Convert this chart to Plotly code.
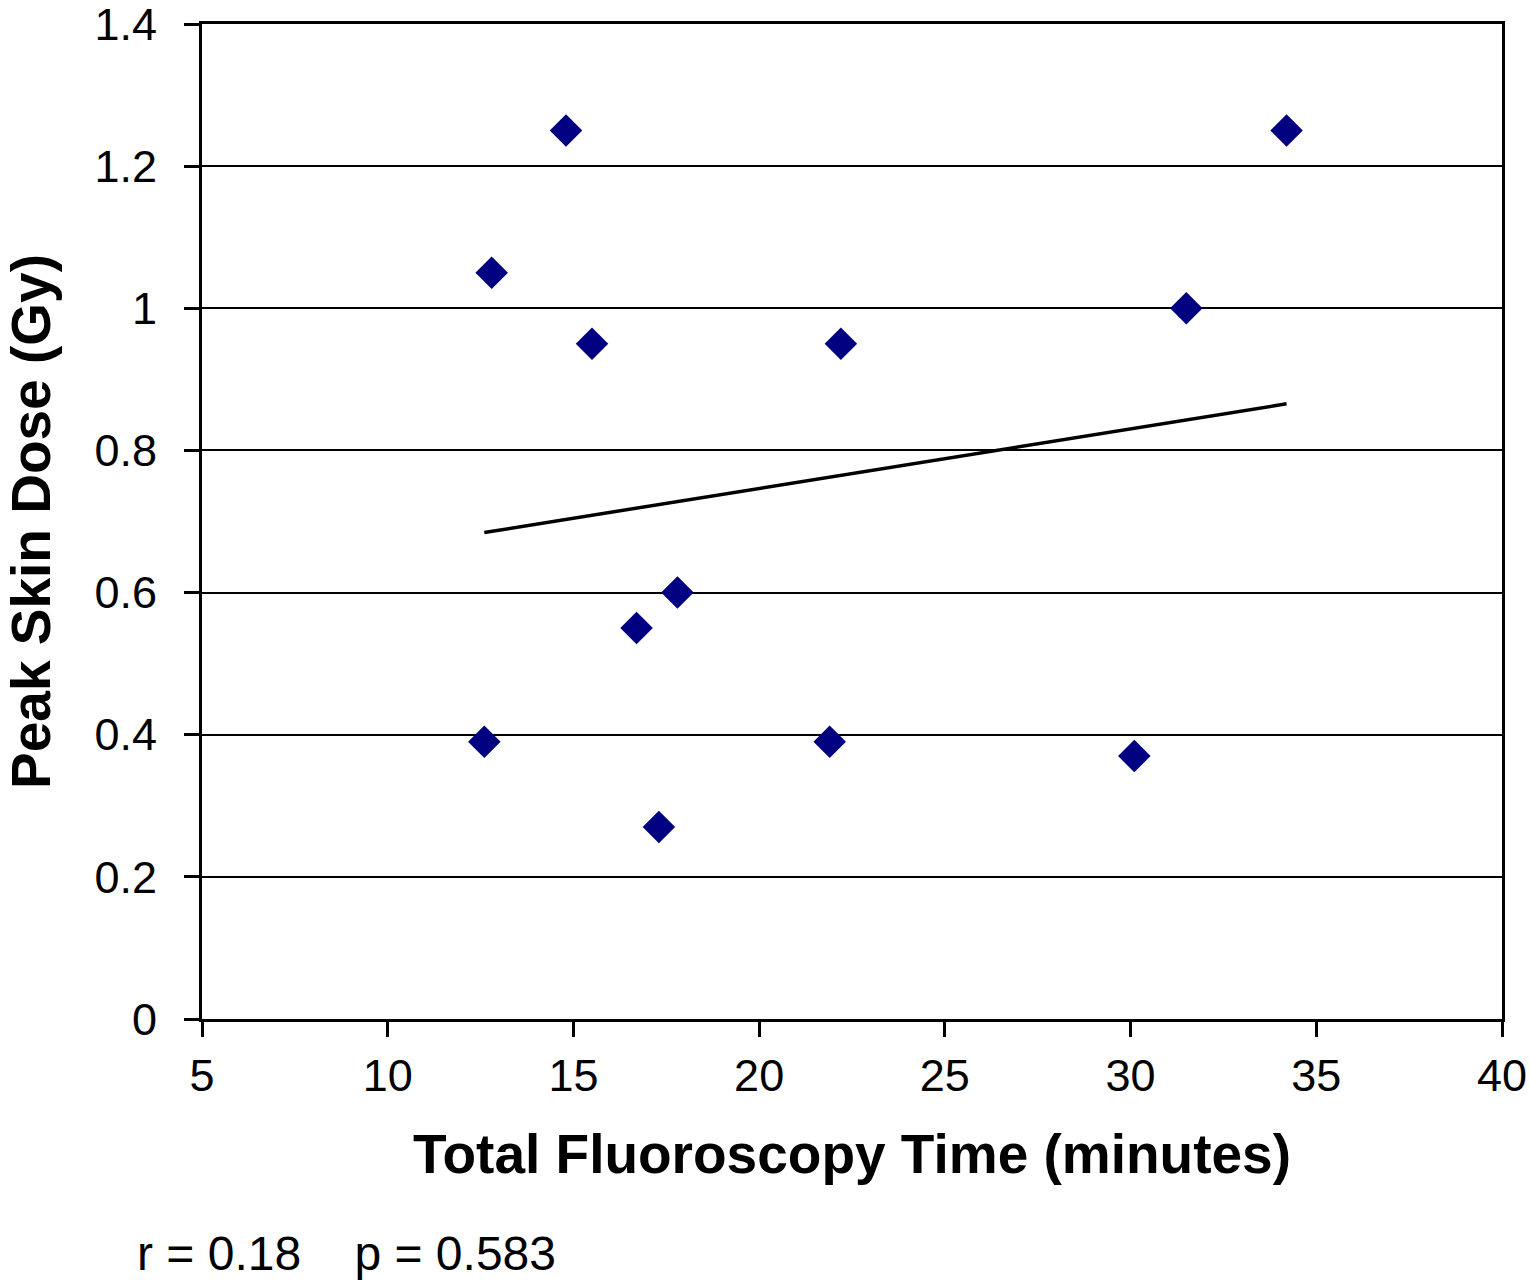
import numpy as np
import plotly.graph_objects as go

fluoro_time = [12.6, 12.8, 14.8, 15.5, 16.7, 17.3, 17.8, 21.9, 22.2, 30.1, 31.5, 34.2]
peak_dose = [0.39, 1.05, 1.25, 0.95, 0.55, 0.27, 0.60, 0.39, 0.95, 0.37, 1.00, 1.25]
x_ticks = [5, 10, 15, 20, 25, 30, 35, 40]
y_ticks = [0, 0.2, 0.4, 0.6, 0.8, 1.0, 1.2, 1.4]
y_tick_text = ["0", "0.2", "0.4", "0.6", "0.8", "1", "1.2", "1.4"]
stats_text = "r = 0.18    p = 0.583"

slope, intercept = np.polyfit(fluoro_time, peak_dose, 1)
tx = [min(fluoro_time), max(fluoro_time)]
ty = [slope * v + intercept for v in tx]

FONT = "Liberation Sans, Arial, sans-serif"

fig = go.Figure()
fig.add_trace(go.Scatter(x=tx, y=ty, mode="lines",
                         line=dict(color="black", width=3.5), showlegend=False))
fig.add_trace(go.Scatter(x=fluoro_time, y=peak_dose, mode="markers",
                         marker=dict(symbol="diamond", size=25, color="#000080",
                                     line=dict(width=0)),
                         showlegend=False))

fig.update_layout(
    width=1530, height=1286,
    margin=dict(l=202, r=28, t=24, b=267, autoexpand=False),
    paper_bgcolor="white", plot_bgcolor="white",
    font=dict(family=FONT, color="black", size=45),
    xaxis=dict(range=[5, 40], tickvals=x_ticks, ticks="outside", ticklen=15,
               tickwidth=2.5, tickcolor="black", showgrid=False, zeroline=False,
               showline=True, linecolor="black", linewidth=3, mirror=True,
               ticklabeloverflow="allow", automargin=False,
               tickfont=dict(size=45, family=FONT),
               title=dict(text="<b>Total Fluoroscopy Time (minutes)</b>",
                          font=dict(size=55, family=FONT), standoff=35)),
    yaxis=dict(range=[0, 1.4], tickvals=y_ticks, ticktext=y_tick_text,
               ticks="outside", ticklen=15, tickwidth=2.5, tickcolor="black",
               ticklabelstandoff=18, ticklabeloverflow="allow", automargin=False,
               showgrid=True, gridcolor="black", gridwidth=1.5, zeroline=False,
               showline=True, linecolor="black", linewidth=3, mirror=True,
               tickfont=dict(size=45, family=FONT),
               title=dict(text="<b>Peak Skin Dose (Gy)</b>",
                          font=dict(size=55, family=FONT), standoff=28)),
    annotations=[dict(text=stats_text, xref="paper", yref="paper",
                      x=(135 - 202) / 1300, y=-(1253 - 1019) / 995,
                      xanchor="left", yanchor="middle", showarrow=False,
                      font=dict(size=48, family=FONT))],
)

fig.write_html(
    "out.html",
    config={"displayModeBar": False},
    post_script="document.body.style.margin='0px';document.body.style.overflow='hidden';",
)
